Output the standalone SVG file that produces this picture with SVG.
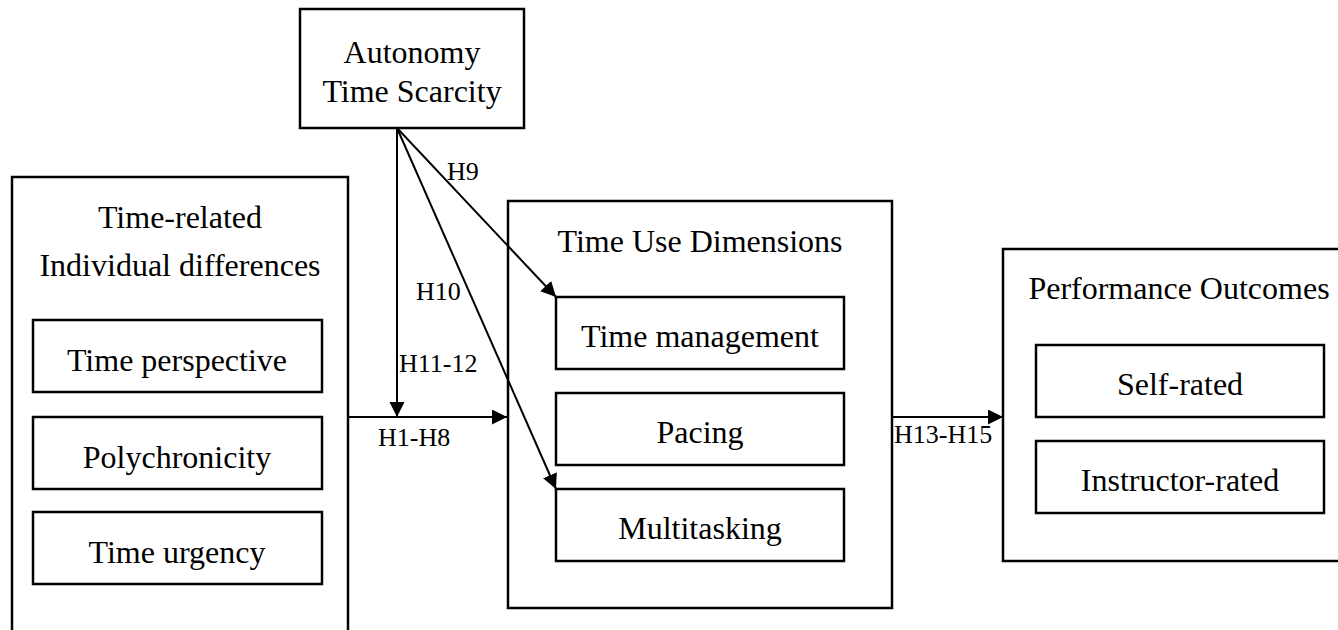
<svg xmlns="http://www.w3.org/2000/svg" width="1338" height="630" viewBox="0 0 1338 630">
<style>
.box{fill:#fff;stroke:#000;stroke-width:2.5}
.inner{fill:#fff;stroke:#000;stroke-width:2.5}
.t{font-family:"Liberation Serif","Times New Roman",serif;font-size:32px;fill:#000;text-anchor:middle}
.lbl{font-family:"Liberation Serif","Times New Roman",serif;font-size:26px;fill:#000}
.edge{fill:none;stroke:#000;stroke-width:2;marker-end:url(#arr)}
</style>
<defs>
<marker id="arr" markerUnits="userSpaceOnUse" markerWidth="18" markerHeight="16" refX="15" refY="7.5" orient="auto">
<path d="M0,0 L15,7.5 L0,15 z" fill="#000"/>
</marker>
</defs>
<rect width="1338" height="630" fill="#fff"/>
<g id="autonomy">
<rect class="box" x="300" y="9" width="224" height="119"/>
<text class="t" x="412" y="63">Autonomy</text>
<text class="t" x="412" y="102">Time Scarcity</text>
</g>
<g id="individual">
<rect class="box" x="12" y="177" width="336" height="470"/>
<text class="t" x="180" y="228">Time-related</text>
<text class="t" x="180" y="276">Individual differences</text>
<g id="time-perspective"><rect class="inner" x="33" y="320" width="289" height="72"/><text class="t" x="177" y="371">Time perspective</text></g>
<g id="polychronicity"><rect class="inner" x="33" y="417" width="289" height="72"/><text class="t" x="177" y="468">Polychronicity</text></g>
<g id="time-urgency"><rect class="inner" x="33" y="512" width="289" height="72"/><text class="t" x="177" y="563">Time urgency</text></g>
</g>
<g id="timeuse">
<rect class="box" x="508" y="201" width="384" height="407"/>
<text class="t" x="700" y="252">Time Use Dimensions</text>
<g id="time-management"><rect class="inner" x="556" y="297" width="288" height="72"/><text class="t" x="700" y="347">Time management</text></g>
<g id="pacing"><rect class="inner" x="556" y="393" width="288" height="72"/><text class="t" x="700" y="443">Pacing</text></g>
<g id="multitasking"><rect class="inner" x="556" y="489" width="288" height="72"/><text class="t" x="700" y="539">Multitasking</text></g>
</g>
<g id="performance">
<rect class="box" x="1003" y="249" width="350" height="312"/>
<text class="t" x="1179" y="299">Performance Outcomes</text>
<g id="self-rated"><rect class="inner" x="1036" y="345" width="288" height="72"/><text class="t" x="1180" y="395">Self-rated</text></g>
<g id="instructor-rated"><rect class="inner" x="1036" y="441" width="288" height="72"/><text class="t" x="1180" y="491">Instructor-rated</text></g>
</g>
<g id="connectors">
<line class="edge" x1="397" y1="128" x2="397" y2="417"/>
<line class="edge" x1="397" y1="128" x2="556" y2="297"/>
<line class="edge" x1="397" y1="128" x2="556" y2="489"/>
<line class="edge" x1="348" y1="417" x2="507" y2="417"/>
<line class="edge" x1="892" y1="417" x2="1003" y2="417"/>
<text class="lbl" x="447" y="180">H9</text>
<text class="lbl" x="416" y="300">H10</text>
<text class="lbl" x="399" y="372">H11-12</text>
<text class="lbl" x="378" y="446">H1-H8</text>
<text class="lbl" x="894" y="443">H13-H15</text>
</g>
</svg>
